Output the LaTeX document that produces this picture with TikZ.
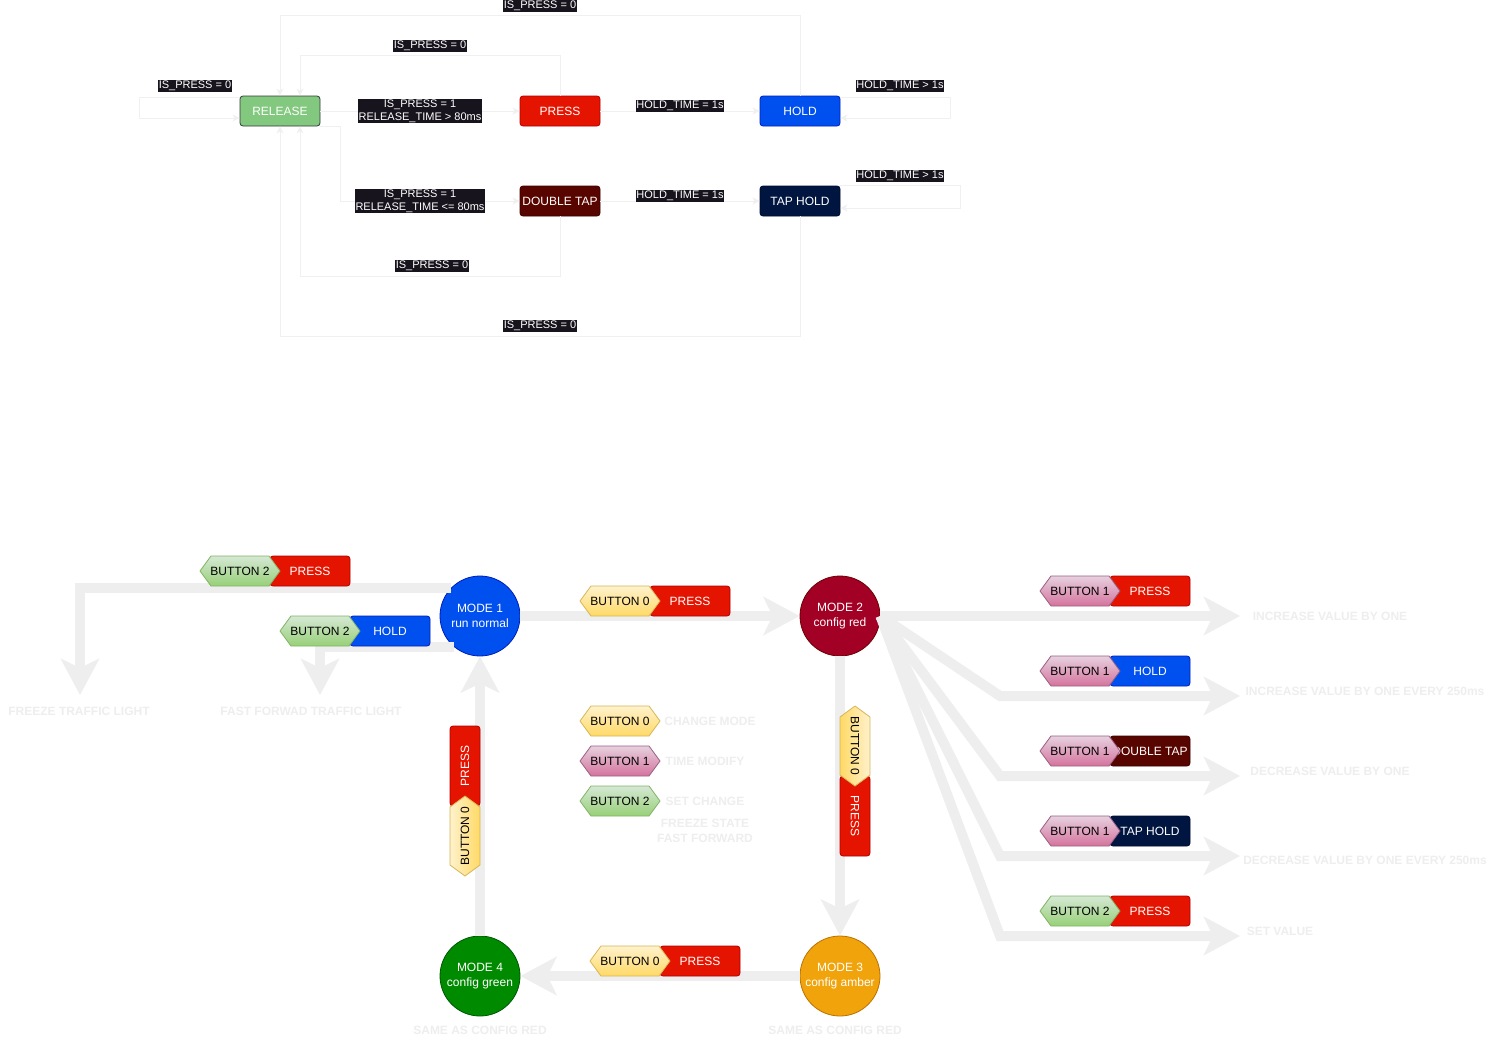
\documentclass[tikz,border=0pt]{standalone}
\usepackage{fontspec}
\setmainfont{Liberation Sans}
\usetikzlibrary{arrows.meta,calc}

\definecolor{edgegrey}{HTML}{F0F0F0}
\definecolor{biggrey}{HTML}{EEEEEE}
\definecolor{lblbg}{HTML}{18141D}
\definecolor{relfill}{HTML}{82C87E}
\definecolor{relline}{HTML}{36393D}
\definecolor{redfill}{HTML}{E51400}
\definecolor{redline}{HTML}{B20000}
\definecolor{bluefill}{HTML}{0050EF}
\definecolor{blueline}{HTML}{001DBC}
\definecolor{dtfill}{HTML}{580500}
\definecolor{dtline}{HTML}{3A0000}
\definecolor{thfill}{HTML}{001540}
\definecolor{thline}{HTML}{000A30}
\definecolor{m2fill}{HTML}{A20025}
\definecolor{m2line}{HTML}{6F0000}
\definecolor{m3fill}{HTML}{F0A30A}
\definecolor{m3line}{HTML}{BD7000}
\definecolor{m4fill}{HTML}{008A00}
\definecolor{m4line}{HTML}{005700}
\definecolor{bzerotop}{HTML}{FFF2CC}
\definecolor{bzerobot}{HTML}{FFD966}
\definecolor{bzeroline}{HTML}{D6B656}
\definecolor{bonetop}{HTML}{E6D0DE}
\definecolor{bonebot}{HTML}{D5739D}
\definecolor{boneline}{HTML}{996185}
\definecolor{btwotop}{HTML}{D5E8D4}
\definecolor{btwobot}{HTML}{97D077}
\definecolor{btwoline}{HTML}{82B366}

\tikzset{
  statebox/.style={rectangle, rounded corners=3pt, minimum width=80pt, minimum height=30pt,
    inner sep=0pt, text=white, line width=0.8pt, font=\fontsize{12}{14}\selectfont},
  redbox/.style={statebox, fill=redfill, draw=redline},
  bluebox/.style={statebox, fill=bluefill, draw=blueline},
  dtbox/.style={statebox, fill=dtfill, draw=dtline},
  thbox/.style={statebox, fill=thfill, draw=thline},
  cond/.style={fill=lblbg, text=white, inner xsep=0.5pt, inner ysep=0.8pt, align=center,
    font=\fontsize{11}{13}\selectfont},
  thinedge/.style={draw=edgegrey, line width=1pt, -{Stealth[length=7pt,width=7pt,inset=2pt]}},
  mode/.style={circle, minimum size=80pt, inner sep=0pt, text=white, line width=0.8pt,
    align=center, font=\fontsize{12}{15}\selectfont},
  big/.style={draw=biggrey, line width=10pt, -{Stealth[length=36pt,width=38pt,inset=9pt]}},
  note/.style={text=biggrey, font=\bfseries\fontsize{12}{15}\selectfont, align=center, inner sep=0pt},
  tagtext/.style={text=black, inner sep=0pt, font=\fontsize{12}{14}\selectfont},
  hexzero/.style={draw=bzeroline, top color=bzerotop, bottom color=bzerobot, line width=0.8pt},
  hexone/.style={draw=boneline, top color=bonetop, bottom color=bonebot, line width=0.8pt},
  hextwo/.style={draw=btwoline, top color=btwotop, bottom color=btwobot, line width=0.8pt},
}

% horizontal button tag: name, centre, fill style, text
\newcommand{\hexh}[4]{%
  \begin{scope}[shift={#2}]
    \path[#3] (-40,0) -- (-29,-15) -- (29,-15) -- (40,0) -- (29,15) -- (-29,15) -- cycle;
    \node[tagtext] (#1) at (0,0) {#4};
  \end{scope}}
% vertical button tag: name, centre, fill options, text, text rotation
\newcommand{\hexv}[5]{%
  \begin{scope}[shift={#2}]
    \path[#3] (0,-40) -- (15,-29) -- (15,29) -- (0,40) -- (-15,29) -- (-15,-29) -- cycle;
    \node[tagtext, rotate=#5] (#1) at (0,0) {#4};
  \end{scope}}

\begin{document}
\begin{tikzpicture}[x=1pt, y=-1pt]
\fill[white] (0,0) rectangle (1490,1047);
\useasboundingbox (0,0) rectangle (1490,1047);

% ---------------- button event state machine ----------------
\node[statebox, fill=relfill, draw=relline] (rel) at (280,111) {RELEASE};
\node[redbox] (press) at (560,111) {PRESS};
\node[bluebox] (hold) at (800,111) {HOLD};
\node[dtbox] (dtap) at (560,201) {DOUBLE TAP};
\node[thbox] (taphold) at (800,201) {TAP HOLD};

\draw[thinedge] ([yshift=14pt]rel.west) -- ++(-100,0) |- ([yshift=-7pt]rel.west);
\draw[thinedge] (rel.east) -- (press.west);
\draw[thinedge] (press.east) -- (hold.west);
\draw[thinedge] ([yshift=14pt]hold.east) -- ++(110,0) |- ([yshift=-7pt]hold.east);
\draw[thinedge] (press.north) -- ++(0,-40) -| ([xshift=20pt]rel.north);
\draw[thinedge] (hold.north) -- ++(0,-80) -| (rel.north);
\draw[thinedge] (rel.south east) -- ++(20,0) |- (dtap.west);
\draw[thinedge] (dtap.east) -- (taphold.west);
\draw[thinedge] (taphold.north east) -- ++(120,0) |- ([yshift=-7pt]taphold.east);
\draw[thinedge] (dtap.south) -- ++(0,60) -| ([xshift=20pt]rel.south);
\draw[thinedge] (taphold.south) -- ++(0,120) -| (rel.south);

\node[cond] (c1) at (195,86) {IS\_PRESS = 0};
\node[cond] (c2) at (420,111) {IS\_PRESS = 1\\RELEASE\_TIME > 80ms};
\node[cond] (c3) at (680,106) {HOLD\_TIME = 1s};
\node[cond] (c4) at (900,86) {HOLD\_TIME > 1s};
\node[cond] (c5) at (430,46) {IS\_PRESS = 0};
\node[cond] (c6) at (540,6) {IS\_PRESS = 0};
\node[cond] (c7) at (420,201) {IS\_PRESS = 1\\RELEASE\_TIME <= 80ms};
\node[cond] (c8) at (680,196) {HOLD\_TIME = 1s};
\node[cond] (c9) at (900,176) {HOLD\_TIME > 1s};
\node[cond] (c10) at (432,266) {IS\_PRESS = 0};
\node[cond] (c11) at (540,326) {IS\_PRESS = 0};

% ---------------- mode diagram ----------------
\node[mode, fill=bluefill, draw=blueline] (m1) at (480,616) {MODE 1\\run normal};
\node[mode, fill=m2fill, draw=m2line] (m2) at (840,616) {MODE 2\\config red};
\node[mode, fill=m3fill, draw=m3line] (m3) at (840,976) {MODE 3\\config amber};
\node[mode, fill=m4fill, draw=m4line] (m4) at (480,976) {MODE 4\\config green};

\coordinate (frz) at (80,695);
\coordinate (ffw) at (320,695);
\coordinate (r1) at (1240,616);
\coordinate (k2) at (1000,696);
\coordinate (r2) at (1240,696);
\coordinate (k3) at (1000,776);
\coordinate (r3) at (1240,776);
\coordinate (k4) at (1000,856);
\coordinate (r4) at (1240,856);
\coordinate (k5) at (1000,936);
\coordinate (r5) at (1240,936);

\draw[big] (m1.east) -- (m2.west);
\draw[big] (m2.south) -- (m3.north);
\draw[big] (m3.west) -- (m4.east);
\draw[big] (m4.north) -- (m1.south);
\draw[big] (m1.136) -| (frz);
\draw[big] (m1.229) -| (ffw);
\draw[big] (m2.east) -- (r1);
\draw[big] (m2.east) -- (k2) -- (r2);
\draw[big] (m2.east) -- (k3) -- (r3);
\draw[big] (m2.east) -- (k4) -- (r4);
\draw[big] (m2.east) -- (k5) -- (r5);

\node[note] (n1) at (79,711) {FREEZE TRAFFIC LIGHT};
\node[note] (n2) at (311,711) {FAST FORWAD TRAFFIC LIGHT};
\node[note] (n3) at (480,1030) {SAME AS CONFIG RED};
\node[note] (n4) at (835,1030) {SAME AS CONFIG RED};
\node[note] (n5) at (1330,616) {INCREASE VALUE BY ONE};
\node[note] (n6) at (1365,691) {INCREASE VALUE BY ONE EVERY 250ms};
\node[note] (n7) at (1330,771) {DECREASE VALUE BY ONE};
\node[note] (n8) at (1365,860) {DECREASE VALUE BY ONE EVERY 250ms};
\node[note] (n9) at (1280,931) {SET VALUE};
\node[note] (l1) at (710,721) {CHANGE MODE};
\node[note] (l2) at (705,761) {TIME MODIFY};
\node[note] (l3) at (705,801) {SET CHANGE};
\node[note] (l4) at (705,831) {FREEZE STATE\\FAST FORWARD};

% button / event tags
\node[redbox] (t1e) at (310,571) {PRESS};
\hexh{t1b}{(240,571)}{hextwo}{BUTTON 2}
\node[bluebox] (t2e) at (390,631) {HOLD};
\hexh{t2b}{(320,631)}{hextwo}{BUTTON 2}
\node[redbox] (t3e) at (690,601) {PRESS};
\hexh{t3b}{(620,601)}{hexzero}{BUTTON 0}
\node[redbox] (t4e) at (700,961) {PRESS};
\hexh{t4b}{(630,961)}{hexzero}{BUTTON 0}

\hexh{lg0}{(620,721)}{hexzero}{BUTTON 0}
\hexh{lg1}{(620,761)}{hexone}{BUTTON 1}
\hexh{lg2}{(620,801)}{hextwo}{BUTTON 2}

\node[redbox, rotate=-90] (t5e) at (855,816) {PRESS};
\hexv{t5b}{(855,746)}{draw=bzeroline, left color=bzerobot, right color=bzerotop, line width=0.8pt}{BUTTON 0}{-90}
\node[redbox, rotate=90] (t6e) at (465,766) {PRESS};
\hexv{t6b}{(465,836)}{draw=bzeroline, left color=bzerotop, right color=bzerobot, line width=0.8pt}{BUTTON 0}{90}

\node[redbox] (t7e) at (1150,591) {PRESS};
\hexh{t7b}{(1080,591)}{hexone}{BUTTON 1}
\node[bluebox] (t8e) at (1150,671) {HOLD};
\hexh{t8b}{(1080,671)}{hexone}{BUTTON 1}
\node[dtbox] (t9e) at (1150,751) {DOUBLE TAP};
\hexh{t9b}{(1080,751)}{hexone}{BUTTON 1}
\node[thbox] (t10e) at (1150,831) {TAP HOLD};
\hexh{t10b}{(1080,831)}{hexone}{BUTTON 1}
\node[redbox] (t11e) at (1150,911) {PRESS};
\hexh{t11b}{(1080,911)}{hextwo}{BUTTON 2}

\end{tikzpicture}
\end{document}
